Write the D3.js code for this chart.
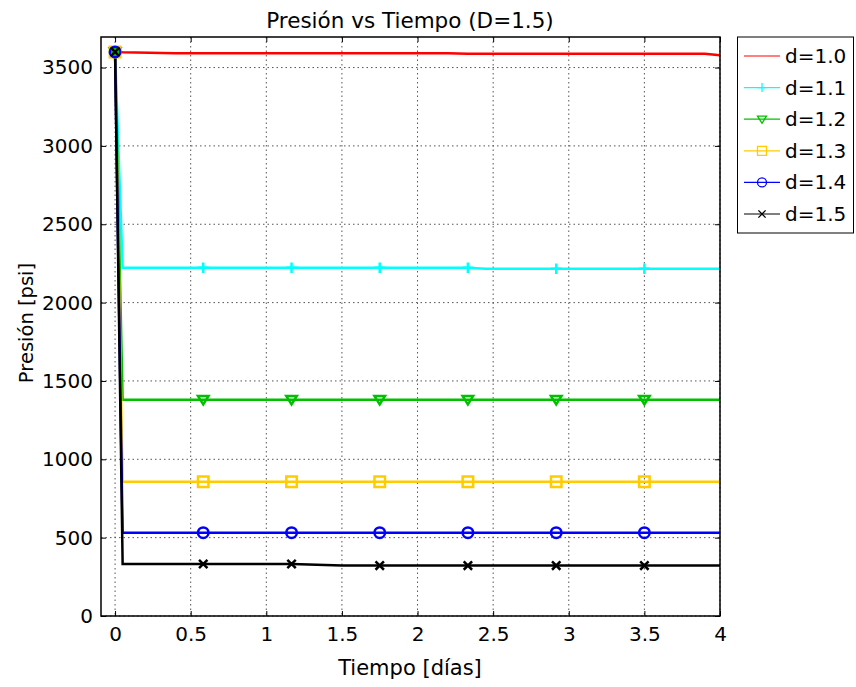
<!DOCTYPE html>
<html>
<head>
<meta charset="utf-8">
<script src="https://cdn.jsdelivr.net/npm/d3@7"></script>
<style>
  html, body { margin: 0; padding: 0; background: #fff; }
  text { font-family: "DejaVu Sans", Verdana, sans-serif; }
</style>
</head>
<body>
<svg id="chart" width="856" height="687"></svg>
<script>
// Time samples in days
const times = [0, 0.05, 0.4, 0.6, 1.17, 1.5, 1.75, 2.2, 2.33, 2.45, 2.92, 3.5, 3.9, 4];
// Pressure [psi] per ratio d
const p10 = [3600, 3598, 3592, 3592, 3592, 3592, 3592, 3591, 3588, 3588, 3588, 3588, 3588, 3578];
const p11 = [3600, 2222, 2222, 2222, 2222, 2222, 2222, 2222, 2222, 2216, 2216, 2216, 2216, 2216];
const p12 = [3600, 1380, 1380, 1380, 1380, 1380, 1380, 1380, 1380, 1380, 1380, 1380, 1380, 1380];
const p13 = [3600, 856, 856, 856, 856, 856, 856, 856, 856, 856, 856, 856, 856, 856];
const p14 = [3600, 532, 532, 532, 532, 532, 532, 532, 532, 532, 532, 532, 532, 532];
const p15 = [3600, 332, 332, 332, 332, 322, 322, 322, 322, 322, 322, 322, 322, 322];
// Marker sample times
const markerTimes = [0, 0.583, 1.167, 1.75, 2.333, 2.917, 3.5];
const labels = ["d=1.0", "d=1.1", "d=1.2", "d=1.3", "d=1.4", "d=1.5"];
const colors = ["#ff0000", "#00ffff", "#00c000", "#ffcc00", "#0000ff", "#000000"];
const markers = ["none", "plus", "tri", "square", "circle", "x"];
const xTicks = [0, 0.5, 1, 1.5, 2, 2.5, 3, 3.5, 4];
const yTicks = [0, 500, 1000, 1500, 2000, 2500, 3000, 3500];

const series = [p10, p11, p12, p13, p14, p15];

const svg = d3.select("#chart");
const L = 101, R = 720, T = 37, B = 616;
const x = d3.scaleLinear().domain([-0.093, 4]).range([L, R]);
const y = d3.scaleLinear().domain([0, 3695]).range([B, T]);

// grid
const grid = svg.append("g");
grid.selectAll("line.gx").data(xTicks).join("line")
  .attr("x1", d => x(d)).attr("x2", d => x(d)).attr("y1", T).attr("y2", B)
  .attr("stroke", "#555").attr("stroke-width", 1).attr("stroke-dasharray", "1.5,3");
grid.selectAll("line.gy").data(yTicks).join("line")
  .attr("y1", d => y(d)).attr("y2", d => y(d)).attr("x1", L).attr("x2", R)
  .attr("stroke", "#555").attr("stroke-width", 1).attr("stroke-dasharray", "1.5,3");

// axes with inward ticks on all four sides
const ax = g => g.attr("font-size", 20).call(s => s.select(".domain").remove());
svg.append("g").attr("transform", `translate(0,${B})`)
  .call(d3.axisBottom(x).tickValues(xTicks).tickFormat(d3.format("")).tickSizeInner(-5).tickPadding(11))
  .call(ax).selectAll("text").attr("fill", "#000");
svg.append("g").attr("transform", `translate(${L},0)`)
  .call(d3.axisLeft(y).tickValues(yTicks).tickFormat(d3.format("")).tickSizeInner(-5).tickPadding(8))
  .call(ax).selectAll("text").attr("fill", "#000");
svg.append("g").attr("transform", `translate(0,${T})`)
  .call(d3.axisTop(x).tickValues(xTicks).tickFormat("").tickSizeInner(-5)).call(ax);
svg.append("g").attr("transform", `translate(${R},0)`)
  .call(d3.axisRight(y).tickValues(yTicks).tickFormat("").tickSizeInner(-5)).call(ax);

// clip for data
svg.append("clipPath").attr("id", "clip").append("rect")
  .attr("x", L).attr("y", T).attr("width", R - L).attr("height", B - T);

const line = d3.line().x((d, i) => x(times[i])).y(d => y(d));

function markerPath(type, s) {
  const h = s / 2;
  switch (type) {
    case "plus": return `M${-h},0H${h}M0,${-h}V${h}`;
    case "x": return `M${-h*0.8},${-h*0.8}L${h*0.8},${h*0.8}M${-h*0.8},${h*0.8}L${h*0.8},${-h*0.8}`;
    case "tri": return `M${-h},${-h*0.7}L${h},${-h*0.7}L0,${h*0.9}Z`;
    case "square": return `M${-h},${-h}H${h}V${h}H${-h}Z`;
    case "circle": return d3.symbol(d3.symbolCircle, Math.PI * h * h)();
  }
  return "";
}

function valueAt(arr, t) {
  for (let i = 1; i < times.length; i++) {
    if (t <= times[i]) {
      const f = (t - times[i - 1]) / (times[i] - times[i - 1]);
      return arr[i - 1] + f * (arr[i] - arr[i - 1]);
    }
  }
  return arr[arr.length - 1];
}

const plot = svg.append("g").attr("clip-path", "url(#clip)");
series.forEach((arr, k) => {
  plot.append("path").datum(arr).attr("d", line)
    .attr("fill", "none").attr("stroke", colors[k]).attr("stroke-width", 2.5);
});
series.forEach((arr, k) => {
  if (markers[k] === "none") return;
  plot.selectAll(null).data(markerTimes).join("path")
    .attr("transform", t => `translate(${x(t)},${y(valueAt(arr, t))})`)
    .attr("d", markerPath(markers[k], 10.5))
    .attr("fill", "none").attr("stroke", colors[k]).attr("stroke-width", 2.5);
});

// frame
svg.append("rect").attr("x", L).attr("y", T).attr("width", R - L).attr("height", B - T)
  .attr("fill", "none").attr("stroke", "#000").attr("stroke-width", 1.5);

// title and axis labels
svg.append("text").attr("x", 410).attr("y", 28).attr("text-anchor", "middle")
  .attr("font-size", 21.5).text("Presión vs Tiempo (D=1.5)");
svg.append("text").attr("x", 410).attr("y", 675).attr("text-anchor", "middle")
  .attr("font-size", 21).text("Tiempo [días]");
svg.append("text").attr("transform", `translate(33,323) rotate(-90)`)
  .attr("text-anchor", "middle").attr("font-size", 19.5).text("Presión [psi]");

// legend
const lg = svg.append("g");
lg.append("rect").attr("x", 737.5).attr("y", 37).attr("width", 116).attr("height", 196)
  .attr("fill", "#fff").attr("stroke", "#000").attr("stroke-width", 1);
labels.forEach((lab, k) => {
  const ly = 56 + k * 31.6;
  lg.append("line").attr("x1", 744).attr("x2", 780).attr("y1", ly).attr("y2", ly)
    .attr("stroke", colors[k]).attr("stroke-width", 1.2);
  if (markers[k] !== "none") {
    lg.append("path").attr("transform", `translate(762,${ly})`).attr("d", markerPath(markers[k], 9))
      .attr("fill", "none").attr("stroke", colors[k]).attr("stroke-width", 1.3);
  }
  lg.append("text").attr("x", 785).attr("y", ly + 7).attr("font-size", 20).text(lab);
});
</script>
</body>
</html>
